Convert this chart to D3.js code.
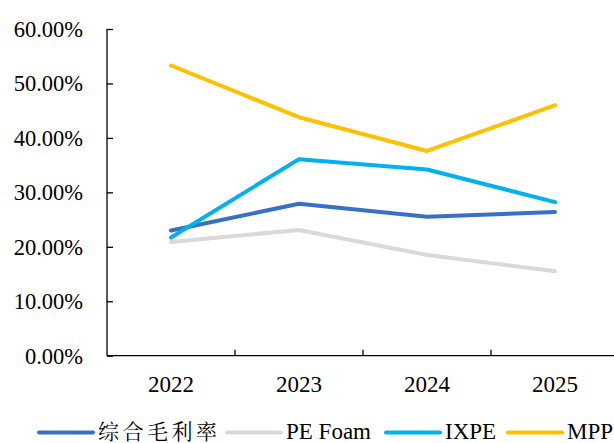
<!DOCTYPE html>
<html><head><meta charset="utf-8">
<script src="https://cdn.jsdelivr.net/npm/d3@7"></script>
<style>
html,body{margin:0;padding:0;background:#fff;}
svg{display:block;}
</style></head>
<body><svg id="c" width="614" height="443"></svg>
<script>
const categories = ["2022","2023","2024","2025"];
const seriesNames = ["综合毛利率","PE Foam","IXPE","MPP"];
const overall = [23.0, 27.9, 25.5, 26.4];
const peFoam = [20.9, 23.1, 18.5, 15.5];
const ixpe = [21.7, 36.1, 34.2, 28.2];
const mpp = [53.3, 43.8, 37.6, 46.0];
const yTicks = [0, 10, 20, 30, 40, 50, 60];
const colors = ["#3671C6", "#D9D9D9", "#00B0F0", "#FFC000"];

const SERIF = "'Liberation Serif', 'Times New Roman', serif";
const series = [overall, peFoam, ixpe, mpp];
const svg = d3.select("#c");
const x = d3.scaleBand().domain(categories).range([107, 619]);
const y = d3.scaleLinear().domain([0, 60]).range([355.7, 29]);

// y axis
const yAxis = d3.axisLeft(y).tickValues(yTicks).tickSize(-6).tickPadding(24)
  .tickFormat(d => d.toFixed(2) + "%");
const gy = svg.append("g").attr("transform", "translate(107,0)").call(yAxis);
gy.attr("font-family", null).attr("font-size", null);
gy.select(".domain").remove();
gy.append("line").attr("x1",0).attr("x2",0).attr("y1",y(60)).attr("y2",y(0)).attr("stroke","#000").attr("stroke-width",1.3);
gy.selectAll(".tick line").attr("stroke","#000").attr("stroke-width",1.3);
gy.selectAll(".tick text").style("font-size", "22.5px").style("font-family", SERIF).attr("fill","#000").attr("dy","0.33em");

// x axis
const gx = svg.append("g").attr("transform", "translate(0," + y(0) + ")");
gx.append("line").attr("x1",107).attr("x2",614).attr("y1",0).attr("y2",0).attr("stroke","#000").attr("stroke-width",1.3);
const bounds = categories.slice(1).map(c => x(c));
gx.selectAll("line.tk").data(bounds).join("line").attr("class","tk")
  .attr("x1",d=>d).attr("x2",d=>d).attr("y1",0).attr("y2",-6).attr("stroke","#000").attr("stroke-width",1.3);
gx.selectAll("text").data(categories).join("text")
  .attr("x", d => x(d) + x.bandwidth()/2).attr("y", 36)
  .attr("text-anchor","middle").style("font-size","23px").style("font-family", SERIF).text(d=>d);

// lines
const line = d3.line().x((d,i) => x(categories[i]) + x.bandwidth()/2).y(d => y(d));
series.forEach((s, i) => {
  svg.append("path").datum(s).attr("d", line).attr("fill","none")
    .attr("stroke", colors[i]).attr("stroke-width", 4)
    .attr("stroke-linecap","round").attr("stroke-linejoin","round");
});

// legend
const legX = [39, 227, 386, 508];
const lg = svg.append("g");
seriesNames.forEach((n, i) => {
  lg.append("line").attr("x1", legX[i]).attr("x2", legX[i] + 54).attr("y1", 432.5).attr("y2", 432.5)
    .attr("stroke", colors[i]).attr("stroke-width", 4).attr("stroke-linecap","round");
  const t = lg.append("text").attr("x", legX[i] + 59).attr("y", 438.5)
    .style("font-size", "23px").style("font-family", SERIF).text(n);
  if (i === 0) t.style("font-family", "'Noto Serif CJK SC', 'Noto Sans CJK SC'").style("font-size","21px").attr("letter-spacing", 3.5);
});
</script></body></html>
